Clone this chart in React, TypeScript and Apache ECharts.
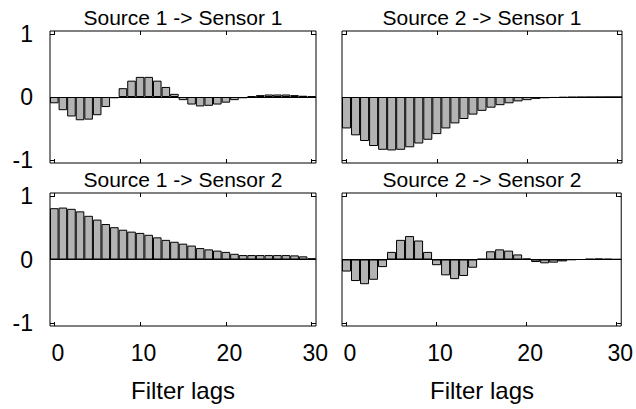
import React, { useEffect, useRef } from "react";
import * as echarts from "echarts";

const lags: string[] = Array.from({ length: 31 }, (_, i) => String(i));

const source1Sensor1: number[] = [
  -0.10, -0.21, -0.31, -0.37, -0.36, -0.29, -0.16, -0.02, 0.14, 0.26, 0.32,
  0.32, 0.26, 0.16, 0.05, -0.05, -0.12, -0.15, -0.14, -0.12, -0.09, -0.05,
  -0.02, 0.01, 0.03, 0.04, 0.04, 0.04, 0.03, 0.02, 0.01,
];
const source2Sensor1: number[] = [
  -0.50, -0.61, -0.70, -0.78, -0.84, -0.85, -0.84, -0.80, -0.74, -0.68, -0.59,
  -0.50, -0.42, -0.35, -0.28, -0.22, -0.17, -0.13, -0.10, -0.07, -0.05, -0.03,
  -0.02, -0.015, -0.01, -0.006, -0.004, -0.003, -0.002, -0.001, -0.001,
];
const source1Sensor2: number[] = [
  0.81, 0.82, 0.80, 0.76, 0.69, 0.63, 0.56, 0.51, 0.47, 0.44, 0.42, 0.39,
  0.35, 0.31, 0.28, 0.25, 0.22, 0.18, 0.16, 0.14, 0.12, 0.09, 0.07, 0.07,
  0.07, 0.07, 0.07, 0.07, 0.065, 0.05, 0.02,
];
const source2Sensor2: number[] = [
  -0.19, -0.34, -0.39, -0.32, -0.12, 0.12, 0.31, 0.37, 0.30, 0.12, -0.09,
  -0.25, -0.31, -0.26, -0.13, 0.01, 0.13, 0.16, 0.14, 0.08, 0.015, -0.04,
  -0.06, -0.05, -0.03, -0.005, 0.0, 0.01, 0.015, 0.01, 0.005,
];

const panelTitles: string[] = [
  "Source 1 -> Sensor 1",
  "Source 2 -> Sensor 1",
  "Source 1 -> Sensor 2",
  "Source 2 -> Sensor 2",
];
const yTickValues: number[] = [-1, 0, 1];
const xAxisName = "Filter lags";

const panelData = [source1Sensor1, source2Sensor1, source1Sensor2, source2Sensor2];

const FONT = "'Liberation Sans', Arial, sans-serif";

export default function App() {
  const ref = useRef<HTMLDivElement>(null);
  useEffect(() => {
    if (!ref.current) return;
    const chart = echarts.init(ref.current, undefined, { renderer: "svg" });

    const grids = [
      { left: 50, top: 31, width: 266, height: 132 },
      { left: 342, top: 31, width: 280, height: 132 },
      { left: 50, top: 193, width: 266, height: 133 },
      { left: 342, top: 193, width: 280, height: 133 },
    ];

    const tickInterval = (index: number) => index % 10 === 0;

    const xAxes: any[] = [];
    const yAxes: any[] = [];
    const series: any[] = [];
    const graphics: any[] = [];

    grids.forEach((g, i) => {
      const bottomRow = i >= 2;
      const leftCol = i % 2 === 0;
      xAxes.push({
        type: "category",
        gridIndex: i,
        data: lags,
        position: "bottom",
        boundaryGap: true,
        axisLine: { show: false, onZero: false },
        axisTick: { show: true, inside: true, length: 4, alignWithLabel: true, interval: tickInterval, lineStyle: { color: "#000" } },
        axisLabel: {
          show: bottomRow,
          interval: tickInterval,
          margin: 15,
          padding: [0, 0, 0, 7],
          color: "#000",
          fontFamily: FONT,
          fontSize: 23,
        },
        splitLine: { show: false },
      });
      xAxes.push({
        type: "category",
        gridIndex: i,
        data: lags,
        position: "top",
        boundaryGap: true,
        axisLine: { show: false, onZero: false },
        axisTick: { show: true, inside: true, length: 4, alignWithLabel: true, interval: tickInterval, lineStyle: { color: "#000" } },
        axisLabel: { show: false, interval: tickInterval },
        splitLine: { show: false },
      });
      yAxes.push({
        type: "value",
        gridIndex: i,
        position: "left",
        min: -1.05,
        max: 1.05,
        axisLine: { show: false },
        axisTick: { show: true, inside: true, length: 4, customValues: yTickValues, lineStyle: { color: "#000" } },
        axisLabel: {
          show: leftCol,
          customValues: yTickValues,
          margin: 17,
          color: "#000",
          fontFamily: FONT,
          fontSize: 23,
        },
        splitLine: { show: false },
      });
      yAxes.push({
        type: "value",
        gridIndex: i,
        position: "right",
        min: -1.05,
        max: 1.05,
        axisLine: { show: false },
        axisTick: { show: true, inside: true, length: 4, customValues: yTickValues, lineStyle: { color: "#000" } },
        axisLabel: { show: false, customValues: yTickValues },
        splitLine: { show: false },
      });
      series.push({
        type: "bar",
        name: panelTitles[i],
        xAxisIndex: 2 * i,
        yAxisIndex: 2 * i,
        data: panelData[i],
        barCategoryGap: "0%",
        itemStyle: { color: "#b3b3b3", borderColor: "#000", borderWidth: 1 },
        markLine: {
          silent: true,
          symbol: ["none", "none"],
          label: { show: false },
          lineStyle: { color: "#000", type: "solid", width: 1 },
          data: [{ yAxis: 0 }],
        },
      });
      graphics.push({
        type: "text",
        x: g.left + g.width / 2,
        y: g.top - 14,
        style: {
          text: panelTitles[i],
          textAlign: "center",
          textVerticalAlign: "middle",
          fill: "#000",
          fontFamily: FONT,
          fontSize: 21,
        },
      });
      if (bottomRow) {
        graphics.push({
          type: "text",
          x: g.left + g.width / 2,
          y: 390,
          style: {
            text: xAxisName,
            textAlign: "center",
            textVerticalAlign: "middle",
            fill: "#000",
            fontFamily: FONT,
            fontSize: 24,
          },
        });
      }
    });

    chart.setOption({
      animation: false,
      backgroundColor: "#fff",
      grid: grids.map((g) => ({
        ...g,
        show: true,
        borderColor: "#000",
        borderWidth: 1,
        backgroundColor: "transparent",
        containLabel: false,
      })),
      xAxis: xAxes,
      yAxis: yAxes,
      series,
      graphic: graphics,
    });

    return () => chart.dispose();
  }, []);

  return (
    <div
      ref={ref}
      style={{ position: "fixed", left: 0, top: 0, width: 636, height: 409, background: "#fff" }}
    />
  );
}
